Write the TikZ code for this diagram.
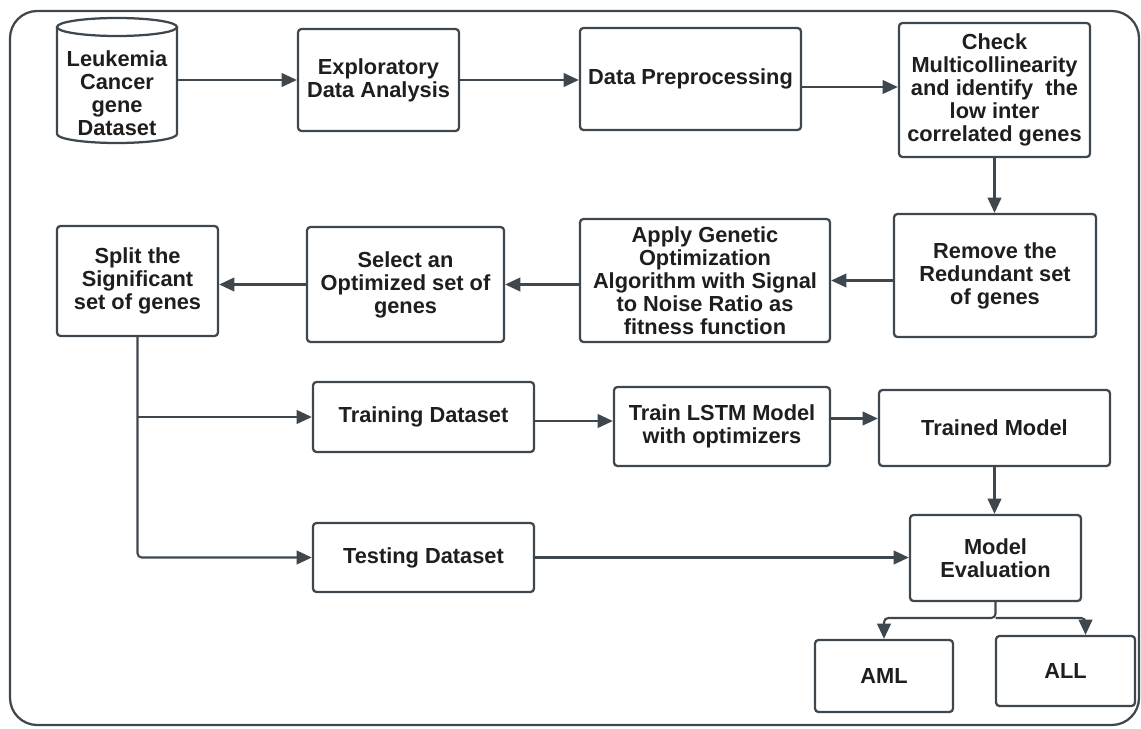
\documentclass[tikz,border=0pt]{standalone}
\usepackage{fontspec}
\setmainfont{Liberation Sans}
\usetikzlibrary{arrows.meta}
\definecolor{edgegray}{HTML}{3E464E}
\definecolor{txtgray}{HTML}{1E1E1E}
\tikzset{
  box/.style={draw=edgegray, line width=1.6pt, rounded corners=2.5pt, align=center,
    inner sep=1pt, text=txtgray, font=\fontsize{15.5}{16.3}\selectfont\bfseries},
  flow/.style={draw=edgegray, line width=1.5pt, rounded corners=3pt,
    -{Triangle[length=0.38cm,width=0.34cm]}},
}
\begin{document}
\begin{tikzpicture}[x=0.025cm,y=-0.025cm]
\useasboundingbox (0,0) rectangle (1141,728);
\draw[edgegray, line width=1.6pt, rounded corners=0.68cm] (10,11) rectangle (1139,725);

\node[box, draw=none, minimum width=3cm] (leuk) at (117,93) {Leukemia\\Cancer\\gene\\Dataset};
\draw[edgegray, line width=1.6pt] (57,27) -- (57,134) arc[start angle=180, end angle=360, x radius=1.5cm, y radius=0.225cm] -- (177,27);
\draw[edgegray, line width=1.6pt] (117,27) ellipse [x radius=1.5cm, y radius=0.225cm];
\node[box, minimum width=4.025cm, minimum height=2.55cm] (eda) at (378.5,80) {Exploratory\\Data Analysis};
\node[box, minimum width=5.525cm, minimum height=2.55cm] (prep) at (690.5,79) {Data Preprocessing};
\node[box, minimum width=4.775cm, minimum height=3.35cm] (multi) at (994.5,90) {Check\\Multicollinearity\\and identify~ the\\low inter\\correlated genes};
\node[box, minimum width=5.05cm, minimum height=3.075cm] (redund) at (995,275.5) {Remove the\\Redundant set\\of genes};
\node[box, minimum width=6.25cm, minimum height=3.075cm] (genetic) at (705,280.5) {Apply Genetic\\Optimization\\Algorithm with Signal\\to Noise Ratio as\\fitness function};
\node[box, minimum width=4.925cm, minimum height=2.875cm] (select) at (405.5,284.5) {Select an\\Optimized set of\\genes};
\node[box, minimum width=4.025cm, minimum height=2.75cm] (split) at (137.5,281) {Split the\\Significant\\set of genes};
\node[box, minimum width=5.525cm, minimum height=1.75cm] (train) at (423.5,417) {Training Dataset};
\node[box, minimum width=5.525cm, minimum height=1.725cm] (test) at (423.5,557.5) {Testing Dataset};
\node[box, minimum width=5.4cm, minimum height=1.975cm] (lstm) at (722,426.5) {Train LSTM Model\\with optimizers};
\node[box, minimum width=5.775cm, minimum height=1.9cm] (trained) at (994.5,428) {Trained Model};
\node[box, minimum width=4.275cm, minimum height=2.15cm] (eval) at (995.5,558) {Model\\Evaluation};
\node[box, minimum width=3.45cm, minimum height=1.8cm] (aml) at (884,676) {AML};
\node[box, minimum width=3.475cm, minimum height=1.75cm] (all) at (1065.5,671) {ALL};
\coordinate (fork) at (995.5,618);

\draw[flow] (leuk.east |- eda.west) -- (eda.west);
\draw[flow] (eda.east) -- (eda.east -| prep.west);
\draw[flow] ([yshift=-0.2cm]prep.east) -- ([yshift=-0.2cm]prep.east -| multi.west);
\draw[flow] (multi.south) -- (multi.south |- redund.north);
\draw[flow] (genetic.east -| redund.west) -- (genetic.east);
\draw[flow] (select.east -| genetic.west) -- (select.east);
\draw[flow] (select.west) -- (select.west -| split.east);
\draw[flow] (split.south) |- (test.west);
\draw[flow] (split.south |- train.west) -- (train.west);
\draw[flow] ([yshift=-0.1cm]train.east) -- ([yshift=-0.1cm]train.east -| lstm.west);
\draw[flow] ([yshift=0.2cm]lstm.east) -- ([yshift=0.2cm]lstm.east -| trained.west);
\draw[flow] (trained.south) -- (trained.south |- eval.north);
\draw[flow] (test.east) -- (test.east -| eval.west);
\draw[flow] (eval.south) -- (fork) -| (aml.north);
\draw[flow] (fork) -| ([xshift=0.5cm]all.north);
\end{tikzpicture}
\end{document}
